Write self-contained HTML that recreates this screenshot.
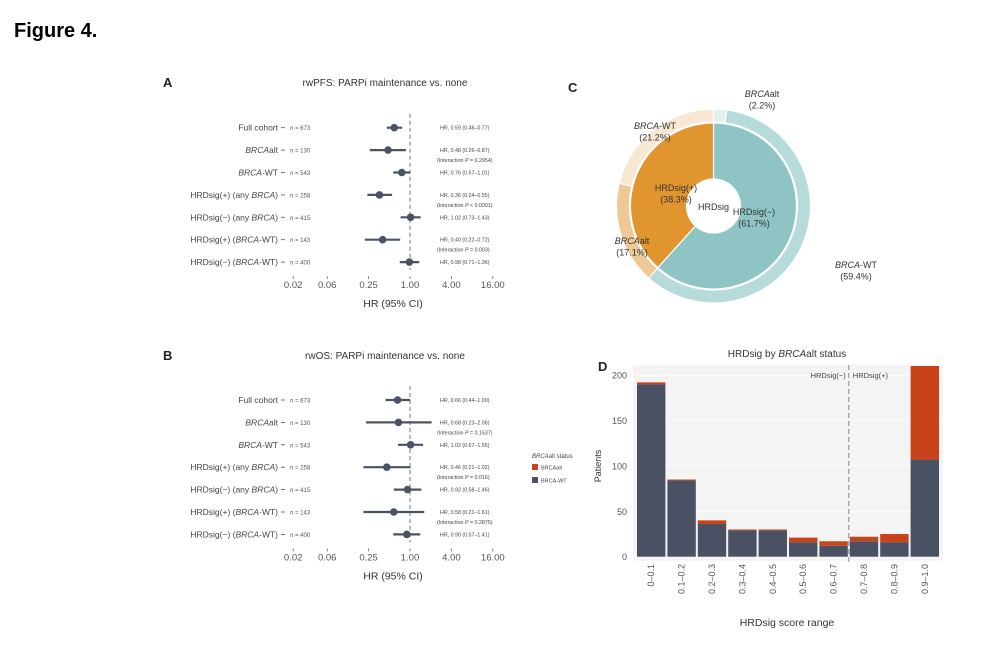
<!DOCTYPE html>
<html><head><meta charset="utf-8"><style>
body{margin:0;background:#fff;font-family:"Liberation Sans",sans-serif;}
svg text{font-family:"Liberation Sans",sans-serif;}
</style></head><body>
<svg id="fig" width="986" height="641" viewBox="0 0 986 641" xmlns="http://www.w3.org/2000/svg">
<text x="14" y="37" font-size="20" font-weight="bold" fill="#000">Figure 4.</text>
<g id="pA"></g>
<g id="pB"></g>
<g id="pC"></g>
<g id="pD"></g>
</svg>
<script>
const rowLabels=[["Full cohort",""],["","BRCA","alt"],["","BRCA","-WT"],["HRDsig(+) (any ","BRCA",")"],["HRDsig(−) (any ","BRCA",")"],["HRDsig(+) (","BRCA","-WT)"],["HRDsig(−) (","BRCA","-WT)"]];
const rowN=[673,130,543,258,415,143,400];
const pfsEst=[0.59,0.48,0.76,0.36,1.02,0.40,0.98];
const pfsLo=[0.46,0.26,0.57,0.24,0.73,0.22,0.71];
const pfsHi=[0.77,0.87,1.01,0.55,1.43,0.72,1.36];
const pfsInter=["","0.2954","","< 0.0001","","0.003",""];
const osEst=[0.66,0.68,1.02,0.46,0.92,0.58,0.90];
const osLo=[0.44,0.23,0.67,0.21,0.58,0.21,0.57];
const osHi=[1.00,2.06,1.55,1.02,1.46,1.61,1.41];
const osInter=["","0.1537","","0.016","","0.2875",""];
const hrTicks=[0.02,0.0625,0.25,1,4,16];
const hrTickLabels=["0.02","0.06","0.25","1.00","4.00","16.00"];
const donutInnerLabels=["HRDsig(−)","HRDsig(+)"];
const donutInner=[61.7,38.3];
const donutOuterLabels=["BRCAalt","BRCA-WT","BRCAalt","BRCA-WT"];
const donutOuter=[2.2,59.4,17.1,21.2];
const scoreBins=["0–0.1","0.1–0.2","0.2–0.3","0.3–0.4","0.4–0.5","0.5–0.6","0.6–0.7","0.7–0.8","0.8–0.9","0.9–1.0"];
const wtCounts=[190,84,36,29,29,16,12,17,16,107];
const altCounts=[2,1,4,1,1,5,5,5,9,103];
const yTicks=[0,50,100,150,200];

const NS="http://www.w3.org/2000/svg";
function mk(parent,tag,attrs,text){const e=document.createElementNS(NS,tag);for(const k in attrs)e.setAttribute(k,attrs[k]);if(text!==undefined)e.textContent=text;parent.appendChild(e);return e;}
const DARK="#4a5366";

function forest(g,letter,title,ty,rowY0,est,lo,hi,inter){
  const xs=v=>410+Math.log2(v)*20.7;
  let t=mk(g,'text',{x:163,y:ty+5,'font-size':13,'font-weight':'bold',fill:'#222'},letter);
  
  t=mk(g,'text',{x:385,y:ty+4,'font-size':10,fill:'#333','text-anchor':'middle'},title);
  
  const rowH=22.4;
  const dl=mk(g,'line',{x1:xs(1),x2:xs(1),y1:rowY0-14,y2:rowY0+6*rowH+8,stroke:'#777','stroke-dasharray':'4,3','stroke-width':1});
  
  for(let i=0;i<est.length;i++){
    const y=rowY0+i*rowH;
    const lab=rowLabels[i];
    const tx=mk(g,'text',{x:278,y:y+3,'font-size':8.5,fill:'#444','text-anchor':'end'});
    
    if(lab.length===2) tx.textContent=lab[0];
    else{mk(tx,'tspan',{},lab[0]);mk(tx,'tspan',{'font-style':'italic'},lab[1]);mk(tx,'tspan',{},lab[2]);}
    mk(g,'line',{x1:281,x2:285,y1:y,y2:y,stroke:'#555','stroke-width':0.8});
    const nt=mk(g,'text',{x:290,y:y+2.5,'font-size':6,fill:'#555'});
    
    mk(nt,'tspan',{'font-style':'italic'},'n');mk(nt,'tspan',{},' = '+rowN[i]);
    const ci=mk(g,'line',{x1:xs(lo[i]),x2:xs(hi[i]),y1:y,y2:y,stroke:DARK,'stroke-width':2.2});
    
    const pt=mk(g,'circle',{cx:xs(est[i]),cy:y,r:3.8,fill:DARK});
    
    const ht=mk(g,'text',{x:440,y:y+2,'font-size':5.3,fill:'#444'},'HR, '+est[i].toFixed(2)+' ('+lo[i].toFixed(2)+'–'+hi[i].toFixed(2)+')');
    
    if(inter[i]){
      const it=mk(g,'text',{x:437,y:y+12,'font-size':5.3,fill:'#444'});
      
      mk(it,'tspan',{},'(Interaction ');mk(it,'tspan',{'font-style':'italic'},'P');mk(it,'tspan',{},(inter[i][0]==='<'?' ':' = ')+inter[i]+')');
    }
  }
  const tyy=rowY0+6*rowH+23;
  hrTicks.forEach((v,k)=>{
    mk(g,'line',{x1:xs(v),x2:xs(v),y1:tyy-9,y2:tyy-6,stroke:'#666','stroke-width':0.8});
    const tl=mk(g,'text',{x:xs(v),y:tyy+3,'font-size':9.5,fill:'#555','text-anchor':'middle'},hrTickLabels[k]);
    
  });
  const at=mk(g,'text',{x:393,y:tyy+22,'font-size':10.5,fill:'#333','text-anchor':'middle'},'HR (95% CI)');
  
}
forest(document.getElementById('pA'),'A','rwPFS: PARPi maintenance vs. none',82,127.7,pfsEst,pfsLo,pfsHi,pfsInter);
forest(document.getElementById('pB'),'B','rwOS: PARPi maintenance vs. none',355,400,osEst,osLo,osHi,osInter);

// Panel C donut
(function(){
  const g=document.getElementById('pC');
  const cx=713.5,cy=206;
  let t=mk(g,'text',{x:568,y:92,'font-size':13,'font-weight':'bold',fill:'#222'},'C');
  
  function arc(r0,r1,a0,a1,fill,name){
    const p=(r,a)=>[cx+r*Math.sin(a),cy-r*Math.cos(a)];
    const large=(a1-a0)>Math.PI?1:0;
    const [x0,y0]=p(r1,a0),[x1,y1]=p(r1,a1),[x2,y2]=p(r0,a1),[x3,y3]=p(r0,a0);
    const e=mk(g,'path',{d:`M${x0},${y0}A${r1},${r1} 0 ${large} 1 ${x1},${y1}L${x2},${y2}A${r0},${r0} 0 ${large} 0 ${x3},${y3}Z`,fill:fill,stroke:'#fff','stroke-width':1.2});
    
  }
  const outerCols=['#e4f1f1','#b7dbdb','#efc995','#f8e8d3'];
  let a=0;const tot=donutOuter.reduce((s,v)=>s+v,0);
  donutOuter.forEach((v,i)=>{const a1=a+v/tot*2*Math.PI;arc(84,97,a,a1,outerCols[i],'outer-slice');a=a1;});
  const innerCols=['#8fc4c5','#e0952f'];
  a=0;const ti=donutInner.reduce((s,v)=>s+v,0);
  donutInner.forEach((v,i)=>{const a1=a+v/ti*2*Math.PI;arc(27,83,a,a1,innerCols[i],'inner-slice');a=a1;});
  const L=(x,y,lines,anchor,name)=>{lines.forEach((ln,k)=>{const e=mk(g,'text',{x:x,y:y+k*11.5,'font-size':9,fill:'#333','text-anchor':anchor||'middle'});
    
    if(Array.isArray(ln)){mk(e,'tspan',{'font-style':'italic'},ln[0]);mk(e,'tspan',{},ln[1]);}else e.textContent=ln;});};
  L(762,97,[['BRCA','alt'],'(2.2%)'],'middle','outer-label');
  L(655,129,[['BRCA','-WT'],'(21.2%)'],'middle','outer-label');
  L(632,244,[['BRCA','alt'],'(17.1%)'],'middle','outer-label');
  L(856,268,[['BRCA','-WT'],'(59.4%)'],'middle','outer-label');
  L(676,191,[donutInnerLabels[1],'('+donutInner[1]+'%)'],'middle','inner-label');
  L(754,215,[donutInnerLabels[0],'('+donutInner[0]+'%)'],'middle','inner-label');
  L(713.5,210,['HRDsig'],'middle','center-label');
})();

// Panel D bars
(function(){
  const g=document.getElementById('pD');
  const x0=636,x1=940,yb=556.7,ppu=0.908;
  const bw=(x1-x0)/scoreBins.length;
  const ys=v=>yb-v*ppu;
  let t=mk(g,'text',{x:598,y:371,'font-size':13,'font-weight':'bold',fill:'#222'},'D');
  
  const bg=mk(g,'rect',{x:x0-3,y:365,width:x1-x0+6,height:yb-365+4,fill:'#f4f4f4'});
  
  yTicks.forEach(v=>{mk(g,'line',{x1:x0-3,x2:x1+3,y1:ys(v),y2:ys(v),stroke:'#fff','stroke-width':0.8});
    const tl=mk(g,'text',{x:627,y:ys(v)+3.5,'font-size':9,fill:'#555','text-anchor':'end'},v);
    });
  const tt=mk(g,'text',{x:787,y:357,'font-size':10,fill:'#333','text-anchor':'middle'});
  
  mk(tt,'tspan',{},'HRDsig by ');mk(tt,'tspan',{'font-style':'italic'},'BRCA');mk(tt,'tspan',{},'alt status');
  scoreBins.forEach((lab,i)=>{
    const bx=x0+i*bw+1;
    const r1=mk(g,'rect',{x:bx,y:ys(wtCounts[i]),width:bw-2,height:wtCounts[i]*ppu,fill:'#4a5163'});
    
    const r2=mk(g,'rect',{x:bx,y:ys(wtCounts[i]+altCounts[i]),width:bw-2,height:altCounts[i]*ppu,fill:'#c8431a'});
    
    const cxl=x0+(i+0.5)*bw;
    const tl=mk(g,'text',{x:cxl+3,y:564,'font-size':9,fill:'#555','text-anchor':'end',transform:`rotate(-90 ${cxl+3} 564)`},lab);
    
  });
  const dl=mk(g,'line',{x1:x0+7*bw,x2:x0+7*bw,y1:365,y2:565,stroke:'#888','stroke-dasharray':'5,3','stroke-width':1});
  
  t=mk(g,'text',{x:x0+7*bw-3,y:378,'font-size':7.5,fill:'#444','text-anchor':'end'},'HRDsig(−)');
  
  t=mk(g,'text',{x:x0+7*bw+4,y:378,'font-size':7.5,fill:'#444'},'HRDsig(+)');
  
  t=mk(g,'text',{x:601,y:466,'font-size':9,fill:'#333','text-anchor':'middle',transform:'rotate(-90 601 466)'},'Patients');
  
  t=mk(g,'text',{x:787,y:626,'font-size':10.5,fill:'#333','text-anchor':'middle'},'HRDsig score range');
  
  // legend
  t=mk(g,'text',{x:532,y:458,'font-size':6,'font-style':'italic',fill:'#444'});
  
  mk(t,'tspan',{},'BRCA');mk(t,'tspan',{'font-style':'normal'},'alt status');
  [['BRCAalt','#c8431a',469],['BRCA-WT','#4a5163',482]].forEach(e=>{
    const r=mk(g,'rect',{x:532,y:e[2]-5,width:6,height:6,fill:e[1]});
    
    const lt=mk(g,'text',{x:541,y:e[2]+0.5,'font-size':5.5,fill:'#444'},e[0]);
    
  });
})();
</script>
</body></html>
